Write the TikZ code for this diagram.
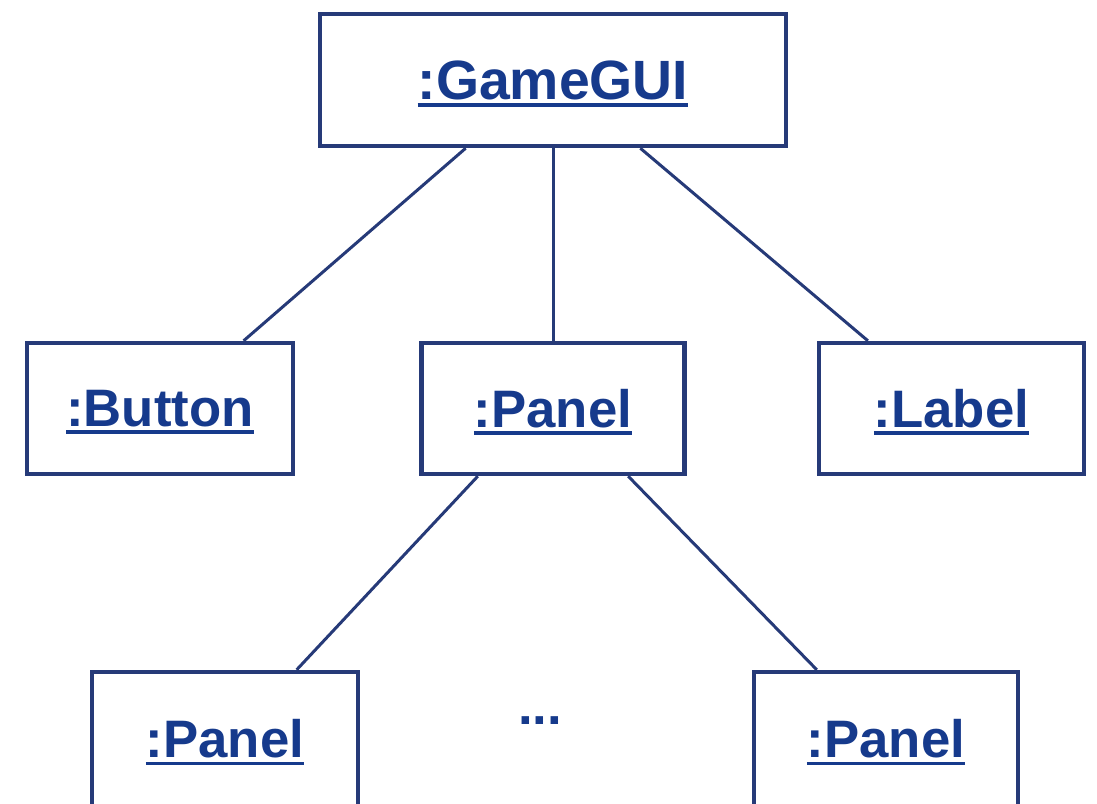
\documentclass[tikz,border=0pt]{standalone}
\usepackage{fontspec}
\setmainfont{Liberation Sans}
\usepackage{xcolor}
\definecolor{objtext}{RGB}{22,58,140}
\definecolor{objline}{RGB}{38,58,120}
\newcommand{\uname}[1]{\sbox0{#1}\rlap{\smash{\rule[-0.145em]{\wd0}{0.07em}}}\box0}

\begin{document}
\begin{tikzpicture}[
  obj/.style={rectangle,draw=objline,line width=2.5pt,inner sep=0pt,text=objtext,
    font=\bfseries\fontsize{30}{36}\selectfont,minimum height=2.62cm},
  topobj/.style={obj,font=\bfseries\fontsize{31.5}{38}\selectfont,minimum height=2.64cm},
  link/.style={draw=objline,line width=1.7pt}
]
  \useasboundingbox[fill=white] (0,0) rectangle (21.94,16.08);
  \clip (0,0) rectangle (21.94,16.08);
  \node[topobj,minimum width=9.32cm] (gui) at (11.060,14.480) {\uname{:GameGUI}};
  \node[obj,minimum width=5.32cm] (btn) at (3.200,7.910) {\uname{:Button}};
  \node[obj,minimum width=5.26cm] (pnl) at (11.060,7.910) {\uname{:Panel}};
  \node[obj,minimum width=5.30cm] (lbl) at (19.030,7.910) {\uname{:Label}};
  \node[obj,minimum width=5.32cm,minimum height=2.68cm] (pnl1) at (4.500,1.300) {\uname{:Panel}};
  \node[obj,minimum width=5.28cm,minimum height=2.68cm] (pnl2) at (17.720,1.300) {\uname{:Panel}};
  \node[anchor=base,text=objtext,font=\bfseries\fontsize{30}{36}\selectfont,inner sep=0pt] (more) at (10.800,1.580) {...};
  \draw[link] (gui.218.5) -- (btn.39.3);
  \draw[link] (gui.south) -- (pnl.north);
  \draw[link] (gui.322.2) -- (lbl.141.9);
  \draw[link] (pnl.222.5) -- (pnl1.44.6);
  \draw[link] (pnl.318.3) -- (pnl2.135.4);
\end{tikzpicture}
\end{document}
